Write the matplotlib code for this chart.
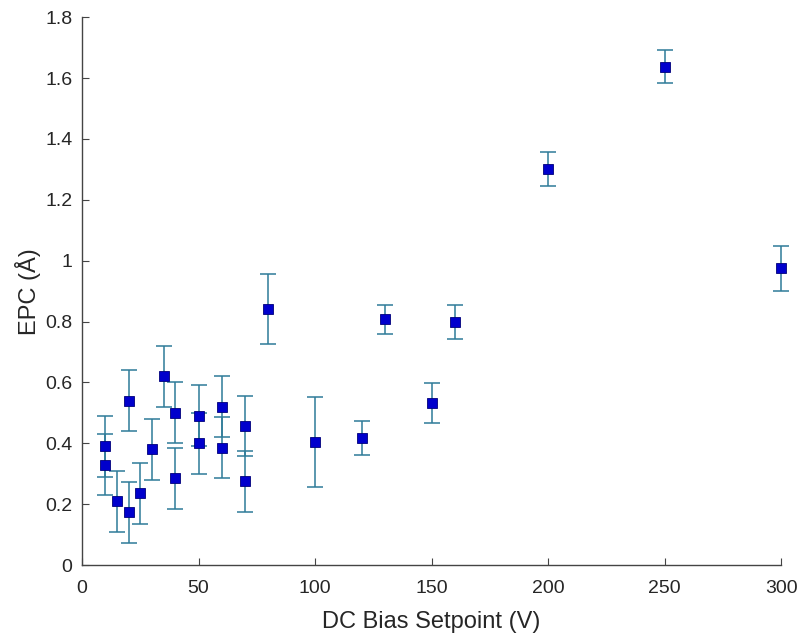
import matplotlib.pyplot as plt

plt.rcParams['font.family'] = ['Liberation Sans', 'DejaVu Sans']

# DC bias setpoint (V), EPC (Angstrom) and symmetric uncertainty
bias = [10, 10, 15, 20, 20, 25, 30, 35, 40, 40, 50, 50, 60, 60, 70, 70,
        80, 100, 120, 130, 150, 160, 200, 250, 300]
epc = [0.39, 0.33, 0.21, 0.54, 0.174, 0.236, 0.38, 0.62, 0.50, 0.285,
       0.49, 0.40, 0.52, 0.385, 0.457, 0.275, 0.84, 0.405, 0.417, 0.807,
       0.532, 0.80, 1.30, 1.638, 0.975]
err = [0.10, 0.10, 0.10, 0.10, 0.10, 0.10, 0.10, 0.10, 0.10, 0.10,
       0.10, 0.10, 0.10, 0.10, 0.10, 0.10, 0.115, 0.148, 0.057, 0.048,
       0.065, 0.056, 0.056, 0.055, 0.074]

fig = plt.figure(figsize=(7.98, 6.34), dpi=100)
ax = fig.add_axes([0.1028, 0.1088, 0.876, 0.864])

_, caps, bars = ax.errorbar(bias, epc, yerr=err, fmt='none', ecolor='#2e7b98',
                            elinewidth=1.1, capsize=5.5, capthick=1.1, zorder=2)
for artist in list(caps) + list(bars):
    artist.set_clip_on(False)
ax.plot(bias, epc, 's', color='#0000cc', markeredgecolor='#00007a',
        markersize=7, markeredgewidth=0.6, zorder=3, clip_on=False)

ax.set_xlim(0, 300)
ax.set_ylim(0, 1.8)
ax.set_xticks([0, 50, 100, 150, 200, 250, 300])
ax.set_yticks([0, 0.2, 0.4, 0.6, 0.8, 1.0, 1.2, 1.4, 1.6, 1.8])
ax.set_yticklabels(['0', '0.2', '0.4', '0.6', '0.8', '1', '1.2', '1.4', '1.6', '1.8'])

for side in ('top', 'right'):
    ax.spines[side].set_visible(False)
for side in ('left', 'bottom'):
    ax.spines[side].set_color('#444444')
    ax.spines[side].set_linewidth(1.0)

ax.tick_params(direction='in', length=5, width=0.8, colors='#444444',
               labelsize=14, labelcolor='#262626')
ax.tick_params(axis='x', pad=11)
ax.tick_params(axis='y', pad=7)
ax.set_xlabel('DC Bias Setpoint (V)', fontsize=17, color='#262626', labelpad=10)
ax.set_ylabel('EPC (Å)', fontsize=17, color='#262626', labelpad=3)

fig.savefig('out.png', dpi=100)
